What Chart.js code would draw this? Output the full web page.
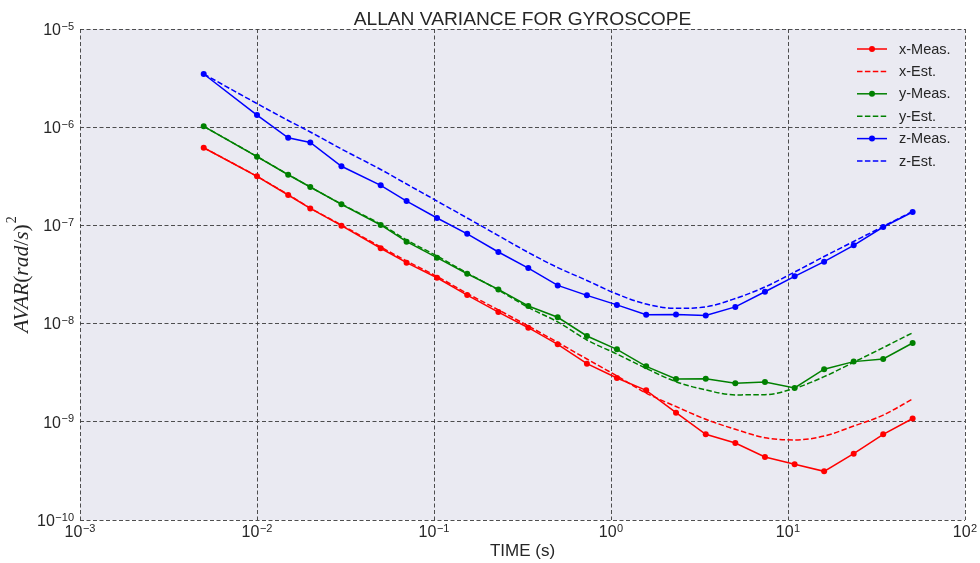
<!DOCTYPE html>
<html>
<head>
<meta charset="utf-8">
<script src="https://cdn.jsdelivr.net/npm/chart.js@4/dist/chart.umd.min.js"></script>
<style>
  html, body { margin: 0; padding: 0; background: #ffffff; }
  canvas { display: block; }
</style>
</head>
<body>
<canvas id="avar" width="980" height="563"></canvas>
<script>
// Averaging times (s)
const tau = [0.005, 0.01, 0.015, 0.02, 0.03, 0.05, 0.07, 0.104, 0.154, 0.231, 0.341, 0.5,
             0.731, 1.08, 1.58, 2.33, 3.43, 5.04, 7.41, 10.9, 16.0, 23.5, 34.5, 50.6];

// Allan variance, measured and estimated, per gyro axis
const xMeas = [6.18e-7, 3.16e-7, 2.04e-7, 1.49e-7, 9.93e-8, 5.85e-8, 4.17e-8, 2.93e-8, 1.95e-8, 1.31e-8, 9.08e-9, 6.15e-9,
               3.91e-9, 2.79e-9, 2.09e-9, 1.24e-9, 7.46e-10, 6.08e-10, 4.38e-10, 3.69e-10, 3.13e-10, 4.73e-10, 7.46e-10, 1.08e-9];
const xEst  = [6.18e-7, 3.16e-7, 2.06e-7, 1.50e-7, 1.01e-7, 6.03e-8, 4.34e-8, 3.02e-8, 2.03e-8, 1.38e-8, 9.46e-9, 6.43e-9,
               4.36e-9, 2.93e-9, 1.96e-9, 1.43e-9, 1.06e-9, 8.39e-10, 6.89e-10, 6.53e-10, 7.16e-10, 9.05e-10, 1.17e-9, 1.71e-9];
const yMeas = [1.02e-6, 5.01e-7, 3.28e-7, 2.46e-7, 1.64e-7, 1.01e-7, 6.83e-8, 4.69e-8, 3.22e-8, 2.23e-8, 1.51e-8, 1.16e-8,
               7.48e-9, 5.47e-9, 3.67e-9, 2.73e-9, 2.75e-9, 2.47e-9, 2.54e-9, 2.21e-9, 3.43e-9, 4.10e-9, 4.37e-9, 6.34e-9];
const yEst  = [1.02e-6, 5.03e-7, 3.30e-7, 2.46e-7, 1.65e-7, 1.03e-7, 7.10e-8, 4.88e-8, 3.27e-8, 2.20e-8, 1.46e-8, 1.04e-8,
               6.81e-9, 4.90e-9, 3.50e-9, 2.56e-9, 2.11e-9, 1.88e-9, 1.89e-9, 2.19e-9, 2.88e-9, 4.04e-9, 5.69e-9, 8.07e-9];
const zMeas = [3.48e-6, 1.33e-6, 7.8e-7, 7.0e-7, 4.0e-7, 2.56e-7, 1.77e-7, 1.19e-7, 8.2e-8, 5.36e-8, 3.68e-8, 2.45e-8,
               1.94e-8, 1.55e-8, 1.23e-8, 1.24e-8, 1.21e-8, 1.48e-8, 2.11e-8, 3.03e-8, 4.27e-8, 6.27e-8, 9.63e-8, 1.37e-7];
const zEst  = [3.48e-6, 1.74e-6, 1.17e-6, 8.94e-7, 6.00e-7, 3.71e-7, 2.64e-7, 1.77e-7, 1.19e-7, 7.88e-8, 5.30e-8, 3.72e-8,
               2.75e-8, 2.00e-8, 1.58e-8, 1.43e-8, 1.48e-8, 1.80e-8, 2.36e-8, 3.35e-8, 4.82e-8, 6.86e-8, 9.75e-8, 1.39e-7];

// Decade tick exponents on each axis
const xTickExp = [-3, -2, -1, 0, 1, 2];
const yTickExp = [-10, -9, -8, -7, -6, -5];

const seriesNames = ['x-Meas.', 'x-Est.', 'y-Meas.', 'y-Est.', 'z-Meas.', 'z-Est.'];
const titleText = 'ALLAN VARIANCE FOR GYROSCOPE';
const xTitle = 'TIME (s)';

const TEXT = '#262626';
const SANS = '"Liberation Sans", Arial, sans-serif';
const SERIF = '"Liberation Serif", "Times New Roman", serif';

const pairs = vals => tau.map((t, i) => ({ x: t, y: vals[i] }));

function measured(label, values, color, idx) {
  return {
    label, data: pairs(values), showLine: true,
    borderColor: color, backgroundColor: color, borderWidth: 1.5,
    pointRadius: 3, pointHoverRadius: 3, pointBorderWidth: 0, pointBackgroundColor: color,
    order: 10 - idx
  };
}
function estimated(label, values, color, idx) {
  return {
    label, data: pairs(values), showLine: true,
    borderColor: color, backgroundColor: color, borderWidth: 1.5,
    borderDash: [5.5, 2.4], pointRadius: 0, pointHoverRadius: 0,
    cubicInterpolationMode: 'monotone',
    order: 10 - idx
  };
}

// "10" with a superscript exponent
function powerParts(ctx, exp) {
  const base = '10';
  const sup = exp < 0 ? '\u2212' + Math.abs(exp) : String(exp);
  ctx.font = '16px ' + SANS;
  const bw = ctx.measureText(base).width;
  ctx.font = '11px ' + SANS;
  const sw = ctx.measureText(sup).width;
  return { base, sup, bw, sw };
}
function drawPower(ctx, exp, left, midY) {
  const p = powerParts(ctx, exp);
  ctx.textAlign = 'left';
  ctx.textBaseline = 'alphabetic';
  ctx.fillStyle = TEXT;
  ctx.font = '16px ' + SANS;
  ctx.fillText(p.base, left, midY + 5.7);
  ctx.font = '11px ' + SANS;
  ctx.fillText(p.sup, left + p.bw + 0.5, midY + 0.5);
}

const decorations = {
  id: 'decorations',
  beforeDraw(chart) {
    const { ctx, chartArea: a } = chart;
    ctx.save();
    ctx.fillStyle = '#EAEAF2';
    ctx.fillRect(a.left, a.top, a.right - a.left, a.bottom - a.top);
    ctx.restore();
  },
  afterDraw(chart) {
    const { ctx, chartArea: a } = chart;
    const xs = chart.scales.x, ys = chart.scales.y;
    ctx.save();

    // y tick labels
    yTickExp.forEach(e => {
      const py = ys.getPixelForValue(Math.pow(10, e));
      const p = powerParts(ctx, e);
      drawPower(ctx, e, a.left - 6 - p.sw - p.bw - 0.5, py);
    });
    // x tick labels
    xTickExp.forEach(e => {
      const px = xs.getPixelForValue(Math.pow(10, e));
      const p = powerParts(ctx, e);
      drawPower(ctx, e, px - (p.bw + p.sw + 0.5) / 2, a.bottom + 11);
    });

    // title
    ctx.fillStyle = TEXT;
    ctx.textAlign = 'center';
    ctx.textBaseline = 'middle';
    ctx.font = '19.2px ' + SANS;
    ctx.fillText(titleText, (a.left + a.right) / 2, a.top - 9.5);

    // x axis title
    ctx.font = '17px ' + SANS;
    ctx.fillText(xTitle, (a.left + a.right) / 2, a.bottom + 31);

    // y axis title: AVAR(rad/s)^2 in math style
    const parts = [['AVAR', 'italic '], ['(', ''], ['rad', 'italic '], ['/', ''], ['s', 'italic '], [')', '']];
    const fs = 21.5;
    let total = 0;
    parts.forEach(([t, st]) => { ctx.font = st + fs + 'px ' + SERIF; total += ctx.measureText(t).width; });
    ctx.font = '14px ' + SERIF;
    const supW = ctx.measureText('2').width;
    total += supW + 1;
    ctx.translate(21, (a.top + a.bottom) / 2);
    ctx.rotate(-Math.PI / 2);
    ctx.textAlign = 'left';
    ctx.textBaseline = 'alphabetic';
    let cx = -total / 2;
    parts.forEach(([t, st]) => {
      ctx.font = st + fs + 'px ' + SERIF;
      ctx.fillText(t, cx, 6.5);
      cx += ctx.measureText(t).width;
    });
    ctx.font = '14px ' + SERIF;
    ctx.fillText('2', cx + 1, -5);
    ctx.setTransform(1, 0, 0, 1, 0, 0);

    // legend
    const lx = a.right - 108, ly = a.top + 20, gap = 22.4;
    chart.data.datasets.forEach((ds, i) => {
      const y = ly + i * gap;
      ctx.strokeStyle = ds.borderColor;
      ctx.lineWidth = 1.5;
      ctx.setLineDash(ds.borderDash || []);
      ctx.beginPath();
      ctx.moveTo(lx, y);
      ctx.lineTo(lx + 30, y);
      ctx.stroke();
      ctx.setLineDash([]);
      if (ds.pointRadius > 0) {
        ctx.fillStyle = ds.borderColor;
        ctx.beginPath();
        ctx.arc(lx + 15, y, 3, 0, Math.PI * 2);
        ctx.fill();
      }
      ctx.fillStyle = TEXT;
      ctx.font = '14.5px ' + SANS;
      ctx.textAlign = 'left';
      ctx.textBaseline = 'middle';
      ctx.fillText(ds.label, lx + 42, y + 0.5);
    });
    ctx.restore();
  }
};

const gridOpts = { color: 'rgba(60,60,60,0.9)', lineWidth: 1, drawTicks: false };
const borderOpts = { display: false, dash: [4, 2.5] };

new Chart(document.getElementById('avar'), {
  type: 'scatter',
  data: {
    datasets: [
      measured(seriesNames[0], xMeas, '#ff0000', 0),
      estimated(seriesNames[1], xEst, '#ff0000', 1),
      measured(seriesNames[2], yMeas, '#008000', 2),
      estimated(seriesNames[3], yEst, '#008000', 3),
      measured(seriesNames[4], zMeas, '#0000ff', 4),
      estimated(seriesNames[5], zEst, '#0000ff', 5)
    ]
  },
  options: {
    responsive: false,
    animation: false,
    devicePixelRatio: 1,
    layout: { padding: { left: 80, top: 29, right: 15, bottom: 43 } },
    plugins: { legend: { display: false }, tooltip: { enabled: false }, title: { display: false } },
    scales: {
      x: {
        type: 'logarithmic', min: 1e-3, max: 1e2,
        ticks: { display: false },
        grid: gridOpts, border: borderOpts,
        afterBuildTicks: s => { s.ticks = xTickExp.map(e => ({ value: Math.pow(10, e), major: true })); },
        afterFit: s => { s.height = 0; }
      },
      y: {
        type: 'logarithmic', min: 1e-10, max: 1e-5,
        ticks: { display: false },
        grid: gridOpts, border: borderOpts,
        afterBuildTicks: s => { s.ticks = yTickExp.map(e => ({ value: Math.pow(10, e), major: true })); },
        afterFit: s => { s.width = 0; }
      }
    }
  },
  plugins: [decorations]
});
</script>
</body>
</html>
